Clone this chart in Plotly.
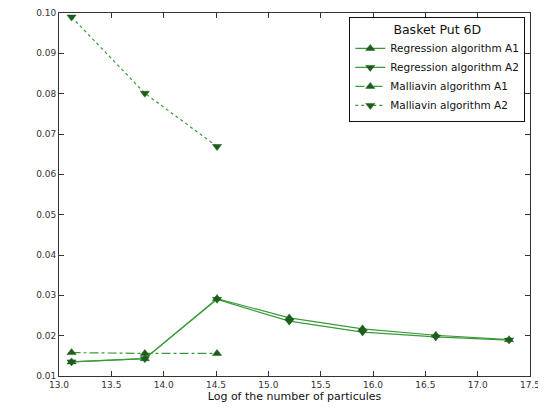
import plotly.graph_objects as go

x_full = [13.12, 13.82, 14.51, 15.20, 15.90, 16.60, 17.30]
x_short = [13.12, 13.82, 14.51]
reg_a1 = [0.0135, 0.0143, 0.0292, 0.0244, 0.0217, 0.0201, 0.0190]
reg_a2 = [0.0135, 0.0143, 0.0290, 0.0236, 0.0209, 0.0197, 0.0189]
mal_a1 = [0.0158, 0.0156, 0.0156]
mal_a2 = [0.0990, 0.0801, 0.0669]

line_col = "#3a9a3a"
mk_col = "#1d5e1d"

fig = go.Figure()
series = [
    ("Regression algorithm A1", x_full, reg_a1, "solid", "triangle-up"),
    ("Regression algorithm A2", x_full, reg_a2, "solid", "triangle-down"),
    ("Malliavin algorithm A1", x_short, mal_a1, "dashdot", "triangle-up"),
    ("Malliavin algorithm A2", x_short, mal_a2, "dot", "triangle-down"),
]
for name, xs, ys, dash, sym in series:
    fig.add_trace(go.Scatter(
        x=xs, y=ys, name=name, mode="lines+markers",
        line=dict(color=line_col, width=1.2, dash=dash),
        marker=dict(symbol=sym, size=8, color=mk_col,
                    line=dict(color=mk_col, width=0.5)),
        cliponaxis=False,
    ))

axis_common = dict(showline=True, linecolor="#333333", linewidth=1,
                   mirror="ticks", ticks="inside", ticklen=5,
                   tickcolor="#333333", showgrid=False, zeroline=False,
                   automargin=False,
                   tickfont=dict(size=9, color="#333333"))
fig.update_xaxes(range=[13.0, 17.5], dtick=0.5, tickformat=".1f",
                 title=dict(text="Log of the number of particules",
                            font=dict(size=11, color="#111111"), standoff=3),
                 **axis_common)
fig.update_yaxes(range=[0.01, 0.10], dtick=0.01, tickformat=".2f",
                 **axis_common)

fig.update_layout(
    width=538, height=399,
    margin=dict(l=51, r=16, t=5, b=31),
    paper_bgcolor="white", plot_bgcolor="white",
    font=dict(family="DejaVu Sans", color="#111111"),
    legend=dict(x=0.99, y=0.99, xanchor="right", yanchor="top",
                bordercolor="#111111", borderwidth=1, bgcolor="white",
                font=dict(size=10.5),
                title=dict(text="Basket Put 6D", side="top center",
                           font=dict(size=12.5)),
                tracegroupgap=0, itemwidth=30),
    showlegend=True,
)

fig.write_html("out.html")
